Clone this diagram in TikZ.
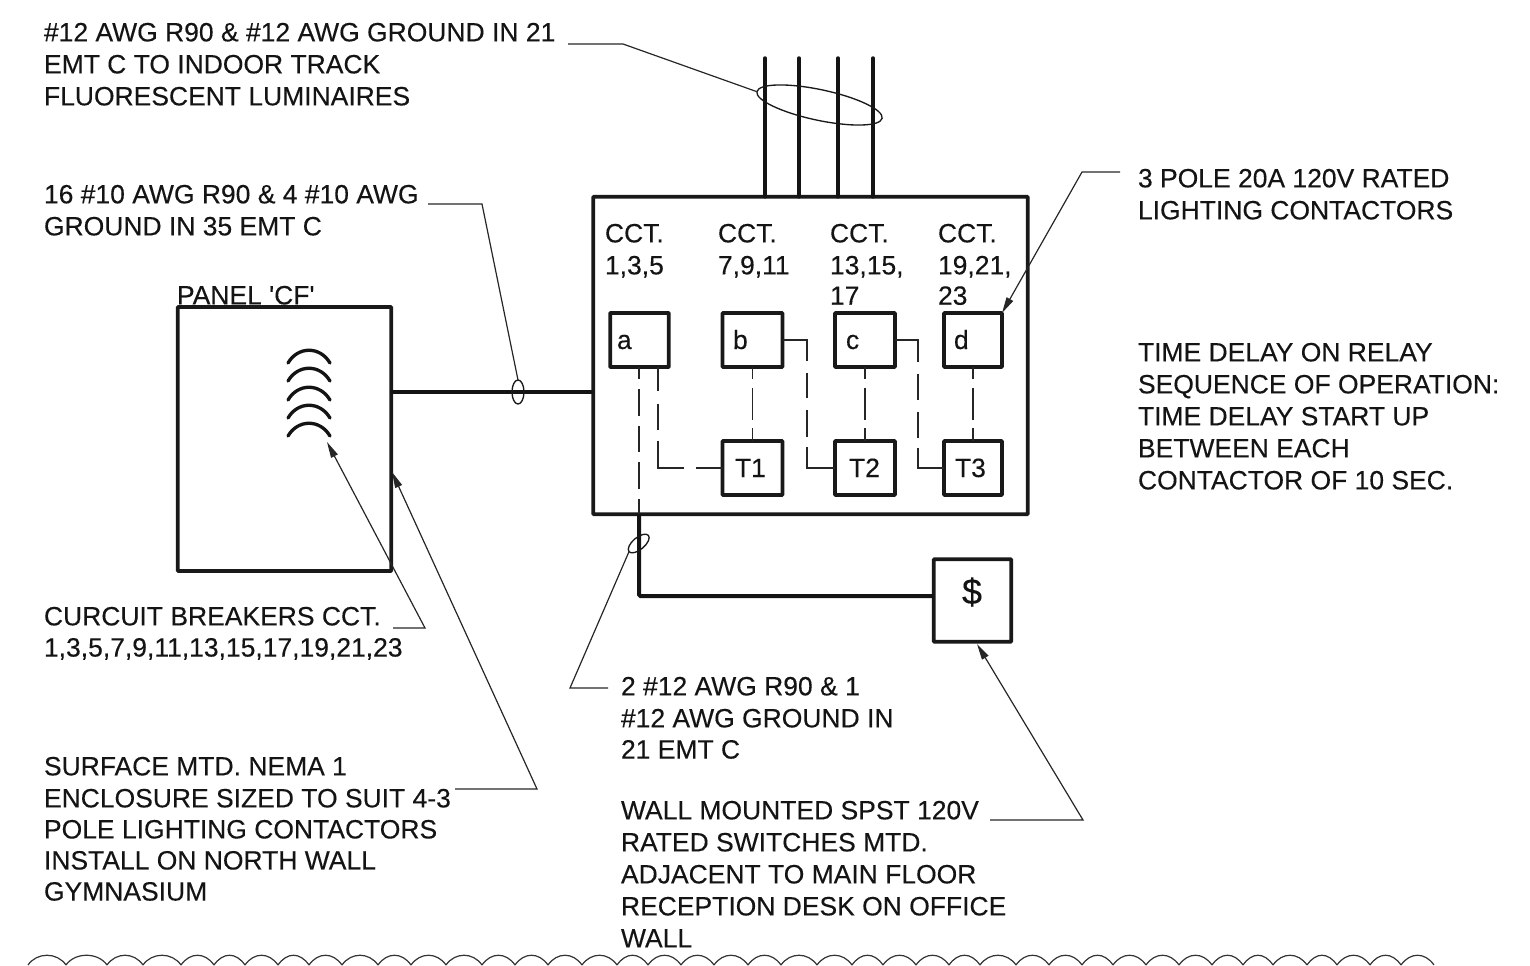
\documentclass[tikz,border=0pt]{standalone}
\usepackage{fontspec}
\setmainfont{Liberation Sans}[Ligatures=TeXOff,FakeBold=0.25]
\usetikzlibrary{arrows.meta,shapes.geometric}
\tikzset{
  x=0.75pt,y=-0.75pt,
  txtbase/.style={inner sep=0pt,outer sep=0pt,align=left,font=\fontsize{19.85pt}{24pt}\selectfont,text=black!92},
  txt/.style={txtbase,anchor=north west,yshift=-2.9pt},
  boxt/.style={txtbase,anchor=base west},
  boxa/.style={draw=black!90,line width=2.8pt,inner sep=0pt,outer sep=0pt,rounded corners=0.5pt},
  relay/.style={boxa,minimum height=40.5pt},
  leader/.style={draw=black!85,line width=0.9pt},
  arrowed/.style={leader,-{Stealth[length=12pt,width=5.5pt,inset=0pt]}},
  wire/.style={draw=black!92,line width=3pt},
  ctlbase/.style={draw=black!85,line width=1pt},
  vdash/.style={ctlbase,dash pattern=on 9pt off 6.5pt on 24pt off 6.5pt on 30pt},
  hdash/.style={ctlbase,dash pattern=on 34pt off 9pt on 19pt off 9pt on 20pt off 7.5pt on 80pt},
  adash/.style={ctlbase,dash pattern=on 9pt off 7.5pt on 20pt off 8pt on 19.5pt off 7.5pt on 20pt off 7.5pt on 40pt},
  bdash/.style={ctlbase,dash pattern=on 18pt off 9.75pt on 19.5pt off 8pt on 40pt off 9pt on 60pt},
  ring/.style={draw=black!90,line width=1pt,ellipse,inner sep=0pt,outer sep=0pt},
  breaker/.style={draw=black!92,line width=2.5pt,line cap=round}
}
\begin{document}
\begin{tikzpicture}
\useasboundingbox (0,0) rectangle (1530,966);
% boxes
\node[boxa,minimum width=160pt,minimum height=198pt] (panel) at (284.5,439) {};
\node[boxa,minimum width=326pt,minimum height=238pt] (main) at (810.5,355.5) {};
\node[relay,minimum width=44pt] (a) at (639.5,340) {};
\node[relay,minimum width=45pt] (b) at (752.5,340) {};
\node[relay,minimum width=45pt] (c) at (865,340) {};
\node[relay,minimum width=43.5pt] (d) at (973,340) {};
\node[relay,minimum width=45pt] (t1) at (752.5,468) {};
\node[relay,minimum width=45pt] (t2) at (865,468) {};
\node[relay,minimum width=43.5pt] (t3) at (973,468) {};
\node[boxa,minimum width=58pt,minimum height=62pt] (sw) at (972.5,600.5) {};
% box letters
\node[boxt] (la) at (617,349) {a};
\node[boxt] (lb) at (733,349) {b};
\node[boxt] (lc) at (846,349) {c};
\node[boxt] (ld) at (954,349) {d};
\node[boxt] (lt1) at (735,477) {T1};
\node[boxt] (lt2) at (849,477) {T2};
\node[boxt] (lt3) at (955,477) {T3};
\node[boxt,font=\fontsize{27pt}{30pt}\selectfont] (dollar) at (962,604) {\$};
% circuit labels
\node[txt] (c1) at (605,220) {CCT.\\1,3,5};
\node[txt] (c2) at (718,220) {CCT.\\7,9,11};
\node[txt] (c3) at (830,220) {CCT.\\13,15,\\[-1.2pt]17};
\node[txt] (c4) at (938,220) {CCT.\\19,21,\\[-1.2pt]23};
% notes
\node[txt] (n1) at (44,19) {\#12 AWG R90 \& \#12 AWG GROUND IN 21\\EMT C TO INDOOR TRACK\\FLUORESCENT LUMINAIRES};
\node[txt] (n2) at (44,181) {16 \#10 AWG R90 \& 4 \#10 AWG\\GROUND IN 35 EMT C};
\node[txt] (n3) at (177,282) {PANEL 'CF'};
\node[txt] (n4) at (44,603) {CURCUIT BREAKERS CCT.\\[-0.6pt]1,3,5,7,9,11,13,15,17,19,21,23};
\node[txt] (n5) at (44,753) {SURFACE MTD. NEMA 1\\ENCLOSURE SIZED TO SUIT 4-3\\[-0.7pt]POLE LIGHTING CONTACTORS\\[-0.7pt]INSTALL ON NORTH WALL\\[-0.7pt]GYMNASIUM};
\node[txt] (n6) at (621,673) {2 \#12 AWG R90 \& 1\\\#12 AWG GROUND IN\\[-0.6pt]21 EMT C};
\node[txt] (n7) at (621,797) {WALL MOUNTED SPST 120V\\RATED SWITCHES MTD.\\ADJACENT TO MAIN FLOOR\\RECEPTION DESK ON OFFICE\\WALL};
\node[txt] (n8) at (1138,165) {3 POLE 20A 120V RATED\\LIGHTING CONTACTORS};
\node[txt] (n9) at (1138,339) {TIME DELAY ON RELAY\\SEQUENCE OF OPERATION:\\TIME DELAY START UP\\BETWEEN EACH\\CONTACTOR OF 10 SEC.};
% top wires
\foreach \n/\wx in {1/765,2/799,3/838,4/873}{
  \coordinate (top\n) at (\wx,58);
  \draw[wire,line width=2.6pt,line cap=round] (top\n) -- (top\n |- main.north);
}
\node[ring,minimum width=96pt,minimum height=23pt,rotate=-12] (e1) at (819.5,105) {};
% main wires
\coordinate (wy) at (0,392);
\draw[wire] (panel.east |- wy) -- (main.west |- wy);
\node[ring,minimum width=9pt,minimum height=18pt] (e2) at (518,392) {};
\coordinate (sx) at (639,0);
\coordinate (sy) at (0,596);
\draw[wire,rounded corners=1pt] (sx |- main.south) |- (sw.west |- sy);
\node[ring,minimum width=19pt,minimum height=9pt,rotate=40] (e3) at (638.7,543.5) {};
% control wiring
\draw[adash] (a.south -| sx) -- (sx |- main.south);
\coordinate (ax) at (658,0);
\draw[bdash] (a.south -| ax) |- (t1.west);
\draw[vdash] (b.south) -- (t1.north);
\coordinate (bx) at (807,0);
\draw[hdash] (b.east) -| (bx |- t2.west) -- (t2.west);
\draw[vdash] (c.south) -- (t2.north);
\coordinate (cx) at (918,0);
\draw[hdash] (c.east) -| (cx |- t3.west) -- (t3.west);
\draw[vdash] (d.south) -- (t3.north);
% breakers
\foreach \n/\by in {1/350,2/368,3/387,4/405,5/423}{
  \coordinate (bl\n) at (288,\by+13);
  \coordinate (br\n) at (330,\by+13);
  \draw[breaker] (bl\n) .. controls (298,\by-4) and (320,\by-4) .. (br\n);
}
% leaders
\coordinate (l1a) at (568,44); \coordinate (l1b) at (623,44);
\draw[leader] (l1a) -- (l1b) -- (e1.west);
\coordinate (l2a) at (428,204); \coordinate (l2b) at (482,204);
\draw[leader] (l2a) -- (l2b) -- (e2.north);
\coordinate (l3a) at (1120,172); \coordinate (l3b) at (1082,172);
\draw[arrowed] (l3a) -- (l3b) -- (d.north east);
\coordinate (l4a) at (393,628); \coordinate (l4b) at (425,628); \coordinate (l4c) at (327,442);
\draw[arrowed] (l4a) -- (l4b) -- (l4c);
\coordinate (l5a) at (455,789); \coordinate (l5b) at (537,789); \coordinate (l5c) at (392,472);
\draw[arrowed] (l5a) -- (l5b) -- (l5c);
\coordinate (l6a) at (608,688); \coordinate (l6b) at (570,688);
\draw[leader] (l6a) -- (l6b) -- (e3.west);
\coordinate (l7a) at (990,820); \coordinate (l7b) at (1083,820); \coordinate (l7c) at (977,644);
\draw[arrowed] (l7a) -- (l7b) -- (l7c);
% revision cloud
\draw[draw=black!80,line width=0.9pt]
  foreach \xa/\xb in {28/66,66/107,107/143,143/181,181/214,214/245,245/278,278/309,309/342,342/378,378/411,411/446,446/482,482/515,515/548,548/582,582/617,617/648,648/681,681/714,714/748,748/781,781/817,817/852,852/883,883/916,916/949,949/980,980/1016,1016/1049,1049/1082,1082/1113,1113/1146,1146/1179,1179/1212,1212/1243,1243/1273,1273/1307,1307/1337,1337/1370,1370/1401,1401/1434}
  { (\xa,965) .. controls (\xa+9,952) and (\xb-9,952) .. (\xb,965) };
\end{tikzpicture}
\end{document}
